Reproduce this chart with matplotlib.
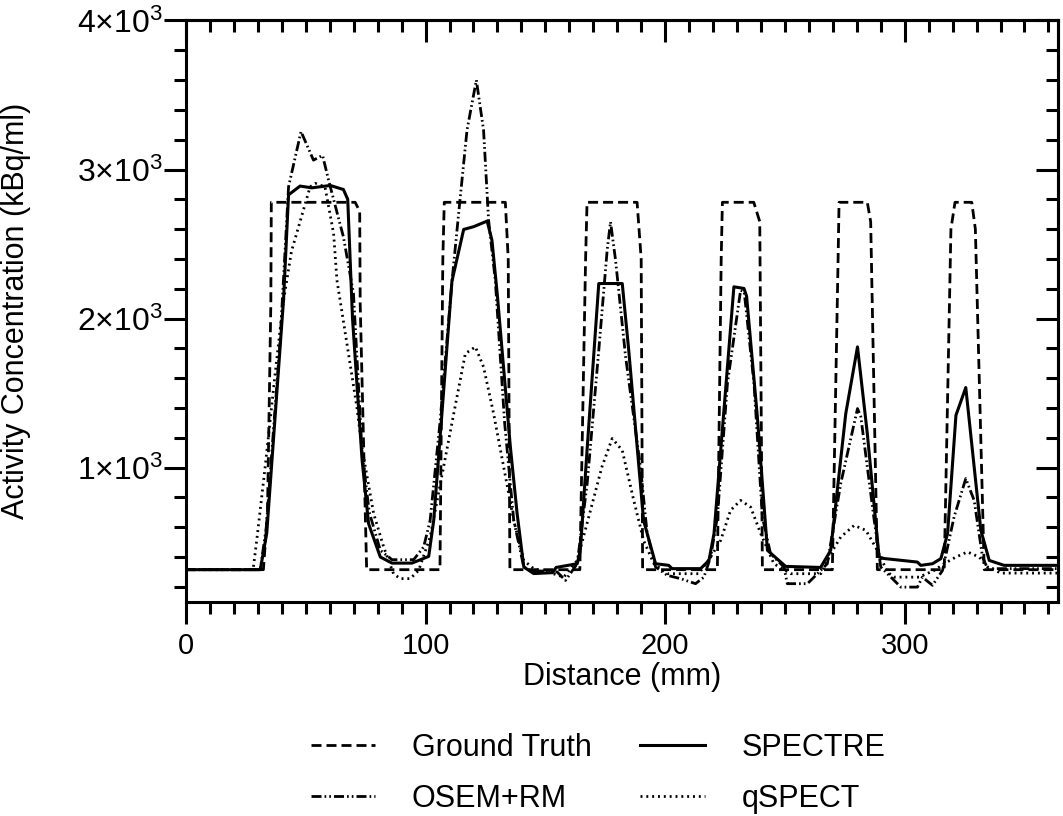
import matplotlib
matplotlib.use('Agg')
import matplotlib.pyplot as plt
from matplotlib.ticker import MultipleLocator, FuncFormatter, NullFormatter

plt.rcParams['font.family'] = ['Liberation Sans', 'DejaVu Sans']
plt.rcParams['mathtext.fontset'] = 'custom'
plt.rcParams['mathtext.rm'] = 'Liberation Sans'
plt.rcParams['mathtext.it'] = 'Liberation Sans:italic'
plt.rcParams['mathtext.bf'] = 'Liberation Sans:bold'

# profile data
gt_x = [0, 32.3, 34, 35.4, 35.6, 70.6, 72.5, 72.7, 75.4, 106, 107.2, 107.8, 133.3, 134.5, 135.2,
        164.4, 166.8, 167.4, 188.3, 190, 190.6, 221.8, 223.4, 223.9, 237, 239.5, 240.6,
        269.8, 272.2, 272.6, 284.4, 285.8, 288.6, 316.5, 319.3, 321, 328, 329.5, 333.2, 364]
gt_y = [315, 315, 700, 2100, 2780, 2780, 2720, 2100, 315, 315, 2400, 2780, 2780, 2400, 315,
        315, 2400, 2780, 2780, 2400, 315, 315, 2400, 2780, 2780, 2650, 315,
        315, 2400, 2780, 2780, 2650, 315, 315, 2600, 2780, 2780, 2600, 315, 315]

spectre_x = [0, 31, 33.7, 37, 40.7, 42.8, 47.6, 52.5, 60.2, 65.7, 67.5, 69.5, 73.5, 76.2, 81.1,
             86, 94.3, 101.3, 103.4, 107, 111, 115.9, 120, 125.7, 127.7, 130, 135.4, 138.2,
             141, 145.1, 153, 154.5, 163.3, 164.6, 167.4, 172.3, 182.1, 184.8, 191, 196,
             201.5, 202.9, 214.8, 218.3, 220.4, 228.7, 232.9, 234, 238.5, 242.7, 250.3,
             264.9, 269.1, 275.4, 280.3, 284.4, 289.3, 291.4, 305.3, 306.7, 311.6, 315.1,
             317.9, 321.4, 325.5, 331.8, 335.3, 341.5, 364]
spectre_y = [315, 315, 560, 1300, 2125, 2830, 2889, 2877, 2893, 2866, 2800, 2000, 1050, 624, 400,
             359, 359, 404, 646, 1400, 2250, 2598, 2616, 2654, 2526, 2150, 1138, 693,
             333, 289, 295, 330, 355, 445, 1116, 2235, 2235, 1788, 646, 355,
             344, 322, 322, 377, 557, 2213, 2202, 2150, 1340, 445, 337,
             330, 445, 1362, 1810, 1228, 400, 390, 366, 344, 355, 389,
             557, 1351, 1537, 579, 377, 344, 344]

osem_x = [0, 31, 33.5, 39.3, 42.8, 48, 53.2, 57, 59.5, 65.7, 69.9, 73.5, 76.5, 81.1, 86, 95,
          99.2, 101.9, 106, 111, 113.8, 117.3, 121.2, 124.2, 126.3, 129.1, 133, 136.8, 141,
          143.7, 154.9, 158.4, 163.3, 167.5, 172.3, 175.8, 177.2, 179.3, 183.5, 189.7, 192.5,
          196, 200.9, 206.4, 212.7, 216.2, 219, 221.8, 226, 231.5, 233, 237.1, 240.6, 244,
          249.6, 251, 259.4, 263.6, 267.7, 273.3, 280.3, 281.7, 287.1, 290, 295.6, 298.4,
          305.3, 307.4, 311.6, 315.8, 320.6, 325.5, 329, 332.5, 334.6, 364]
osem_y = [315, 315, 600, 1855, 2884, 3255, 3063, 3095, 2929, 2548, 2168, 1100, 700, 445, 382, 382,
          467, 646, 1300, 2246, 2705, 3265, 3600, 3265, 2660, 2257, 1300, 646, 333,
          310, 300, 243, 355, 900, 1788, 2459, 2649, 2392, 1743, 1004, 557,
          333, 277, 255, 221, 265, 400, 668, 1564, 2190, 2180, 1564, 668, 422,
          333, 221, 221, 288, 355, 893, 1396, 1340, 668, 333, 243, 198,
          198, 265, 210, 310, 668, 926, 780, 400, 322, 322]

qspect_x = [0, 28, 29.5, 33, 37, 40.5, 44, 47.6, 51.8, 54, 58, 61.6, 63, 66.5, 71.3, 73.4, 78.3,
            82.5, 86.6, 89.4, 93.6, 97.1, 101.9, 107.5, 113.1, 116.6, 120.8, 124.2, 128.4,
            132.6, 136.8, 141, 145.1, 151, 157.7, 163.3, 168.1, 173.6, 177.9, 182.1, 186.9,
            191, 195.3, 200.9, 214, 219, 223.2, 227.3, 231.5, 235.7, 239.9, 245.4, 252.4,
            265, 269.1, 273.3, 278.9, 283.8, 288.6, 292.8, 295.6, 306, 312.3, 316.5, 321.4,
            326.2, 331.1, 334.6, 340.2, 364]
qspect_y = [315, 315, 510, 1000, 1600, 2100, 2450, 2650, 2884, 2907, 2884, 2571, 2257, 1900, 1407,
            1138, 693, 467, 288, 255, 255, 310, 534, 1004, 1474, 1765, 1810, 1675, 1362,
            1004, 646, 377, 322, 300, 265, 377, 668, 1004, 1195, 1116, 780,
            512, 355, 288, 288, 400, 512, 713, 780, 735, 557, 355, 288,
            288, 422, 534, 612, 579, 445, 299, 265, 265, 310, 355, 400,
            434, 400, 333, 292, 292]

fig = plt.figure(figsize=(10.63, 8.16), dpi=100)
ax = fig.add_axes([0.175, 0.2626, 0.8203, 0.7123])

lw = 2.0
l_gt, = ax.plot(gt_x, gt_y, color='black', lw=lw, dashes=(3.6, 1.8), label='Ground Truth')
l_sp, = ax.plot(spectre_x, spectre_y, color='black', lw=2.2, label='SPECTRE')
l_os, = ax.plot(osem_x, osem_y, color='black', lw=lw,
                dashes=(3.6, 1.1, 0.6, 1.1, 0.6, 1.1), label='OSEM+RM')
l_q, = ax.plot(qspect_x, qspect_y, color='black', lw=lw, dashes=(0.7, 1.4), label='qSPECT')

ax.set_xlim(0, 364)
ax.set_ylim(100, 4000)

ax.xaxis.set_major_locator(MultipleLocator(100))
ax.xaxis.set_minor_locator(MultipleLocator(10))
ax.yaxis.set_major_locator(MultipleLocator(1000))
ax.yaxis.set_minor_locator(MultipleLocator(200))
ax.yaxis.set_major_formatter(FuncFormatter(
    lambda v, p: r'$%d{\times}10^3$' % round(v / 1000)))

for s in ax.spines.values():
    s.set_linewidth(2.2)
ax.tick_params(which='major', length=16, width=2.2, direction='out', labelsize=21)
ax.tick_params(which='minor', length=8.5, width=2.2, direction='out')
ax.tick_params(axis='x', which='major', pad=6)
ax.tick_params(axis='y', which='major', pad=1, labelsize=23)

# mirrored ticks on top/right pointing inward
top = ax.secondary_xaxis('top')
top.xaxis.set_major_locator(MultipleLocator(100))
top.xaxis.set_minor_locator(MultipleLocator(10))
top.xaxis.set_major_formatter(NullFormatter())
top.tick_params(which='major', length=16, width=2.2, direction='in')
top.tick_params(which='minor', length=8.5, width=2.2, direction='in')
top.spines['top'].set_linewidth(2.2)

right = ax.secondary_yaxis('right')
right.yaxis.set_major_locator(MultipleLocator(1000))
right.yaxis.set_minor_locator(MultipleLocator(200))
right.yaxis.set_major_formatter(NullFormatter())
right.tick_params(which='major', length=16, width=2.2, direction='in')
right.tick_params(which='minor', length=8.5, width=2.2, direction='in')
right.spines['right'].set_linewidth(2.2)

ax.set_xlabel('Distance (mm)', fontsize=22)
ax.set_ylabel('Activity Concentration (kBq/ml)', fontsize=22)
ax.xaxis.set_label_coords(0.5, -0.104)
ax.yaxis.set_label_coords(-0.178, 0.5)

fig.legend([l_gt, l_os, l_sp, l_q], ['Ground Truth', 'OSEM+RM', 'SPECTRE', 'qSPECT'],
           ncol=2, loc='center', bbox_to_anchor=(598 / 1063, 0.0525), frameon=False,
           fontsize=22, handlelength=2.1, handletextpad=1.2, columnspacing=1.6,
           labelspacing=0.68)

fig.savefig('out.png', dpi=100)
